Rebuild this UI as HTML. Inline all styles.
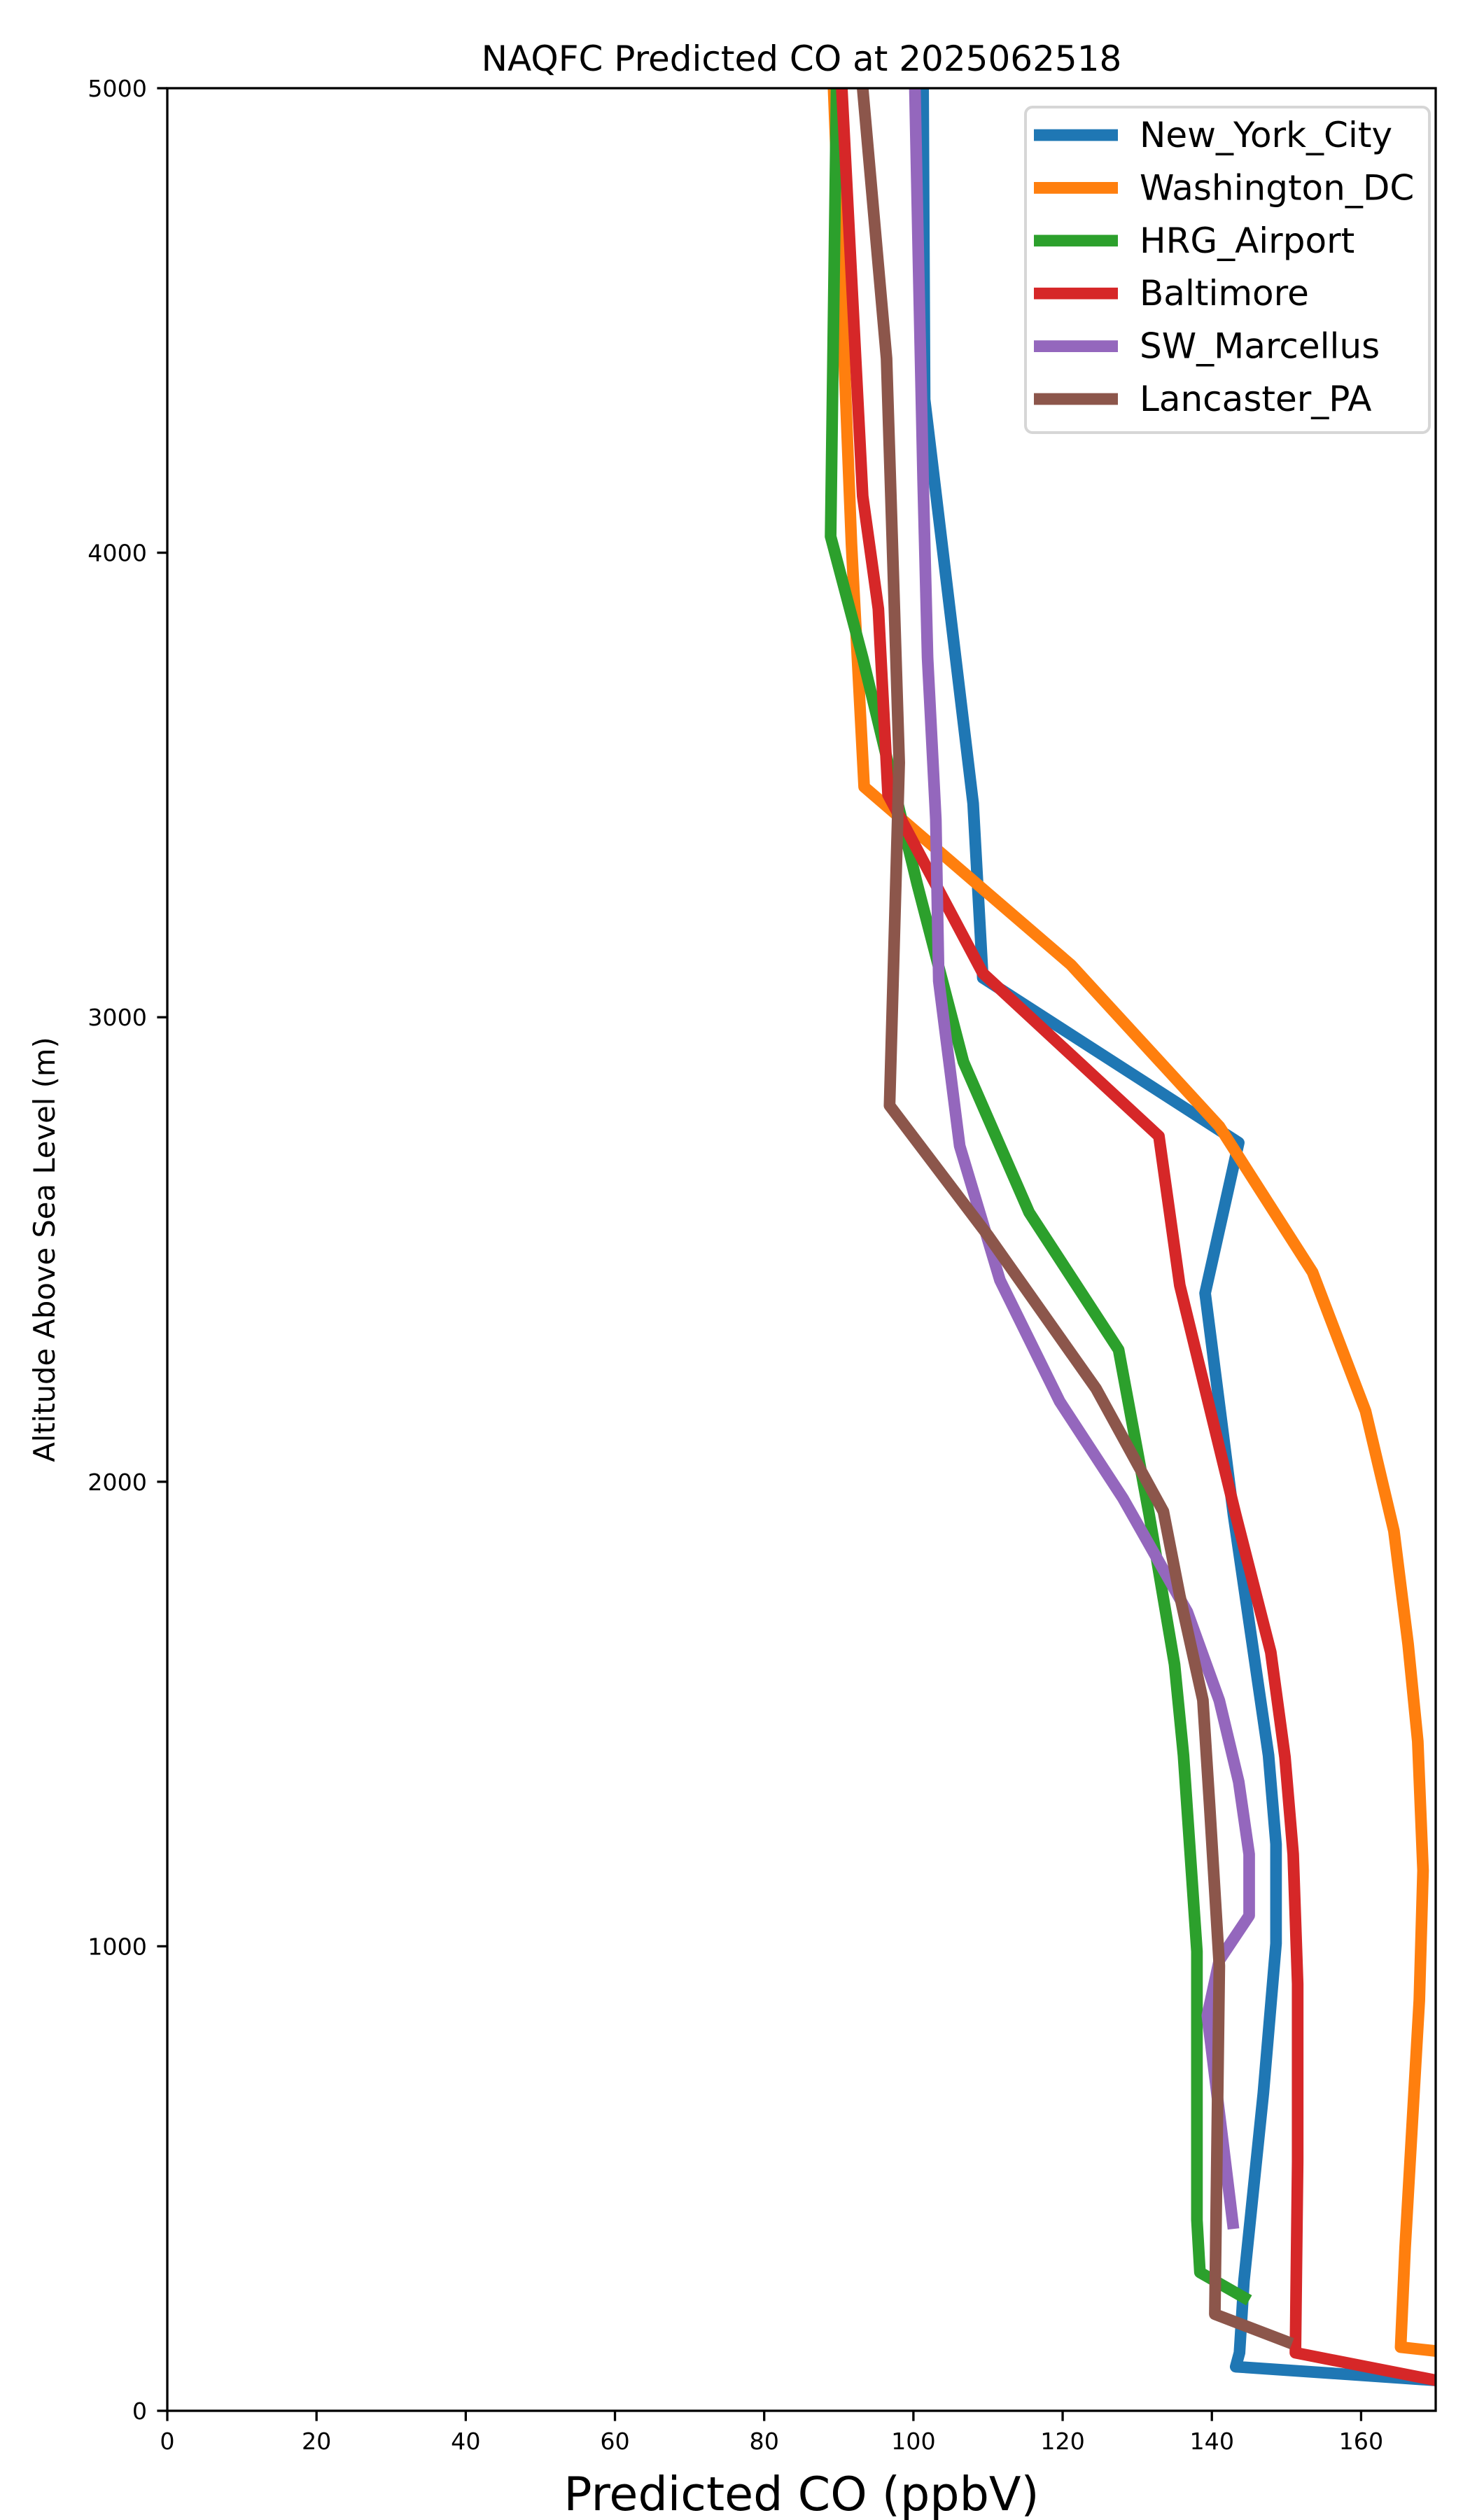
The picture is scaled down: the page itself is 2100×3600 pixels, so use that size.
<!DOCTYPE html>
<html><head><meta charset="utf-8"><style>
html,body{margin:0;padding:0;background:#fff;}
svg{display:block;font-family:"DejaVu Sans","Liberation Sans",sans-serif;}
</style></head><body>
<svg id="chart" width="2100" height="3600" viewBox="0 0 2100 3600" xmlns="http://www.w3.org/2000/svg">
<rect width="2100" height="3600" fill="#fff"/>
<defs><clipPath id="plotclip"><rect x="239" y="126" width="1812" height="3318"/></clipPath></defs>
<text x="1145" y="101" font-size="50" text-anchor="middle">NAQFC Predicted CO at 2025062518</text>
<g id="series" clip-path="url(#plotclip)"></g>
<g id="axes"></g>
<text x="1145" y="3586" font-size="66.7" text-anchor="middle">Predicted CO (ppbV)</text>
<text x="0" y="0" font-size="41.7" text-anchor="middle" transform="translate(78,1785) rotate(-90)">Altitude Above Sea Level (m)</text>
<g id="legend"></g>
</svg>
<script>
const seriesNames = ["New_York_City","Washington_DC","HRG_Airport","Baltimore","SW_Marcellus","Lancaster_PA"];
const seriesColors = ["#1f77b4","#ff7f0e","#2ca02c","#d62728","#9467bd","#8c564b"];
const xTicks = [0,20,40,60,80,100,120,140,160];
const yTicks = [0,1000,2000,3000,4000,5000];
const nycCO  = [101.3,101.5,108,109.3,143.6,139.1,142.9,147.6,148.6,148.6,146.9,144.3,143.7,143.2,175];
const nycAlt = [5000,4330,3460,3085,2730,2406,1929,1411,1220,1006,684,280,125,95,60];
const dcCO   = [89.3,91.7,93.4,121.1,141,153.5,160.6,164.4,166.3,167.6,168.3,167.8,165.9,165.3,175];
const dcAlt  = [5000,4018,3496,3113,2765,2451,2152,1894,1650,1441,1163,884,351,137,120];
const hrgCO  = [89.7,88.9,93.2,100.5,106.7,115.5,127.5,131.6,135,136.2,138,138,138.4,144.3];
const hrgAlt = [5000,4035,3774,3287,2904,2580,2284,1929,1607,1411,989,411,298,244];
const balCO  = [90.4,93.2,95.3,96.6,109.3,132.9,135.7,143.2,147.9,149.8,150.9,151.5,151.5,151.2,175];
const balAlt = [5000,4122,3879,3479,3095,2744,2423,1929,1633,1407,1198,919,536,125,50];
const swmCO  = [100.2,100.7,101.3,101.9,103,103.4,106.2,111.6,119.6,128.1,136.7,141,143.6,145,145,141,139.4,142.4,142.8];
const swmAlt = [5000,4610,4157,3774,3426,3078,2723,2434,2173,1964,1720,1529,1354,1198,1066,970,851,458,404];
const lanCO  = [93.2,96.4,98.1,96.8,110,124.5,133.5,135.7,138.8,139.7,141,140.4,150];
const lanAlt = [5000,4418,3548,2810,2530,2200,1936,1755,1530,1304,958,208,149];

const seriesCO = [nycCO,dcCO,hrgCO,balCO,swmCO,lanCO];
const seriesAlt = [nycAlt,dcAlt,hrgAlt,balAlt,swmAlt,lanAlt];
const L=239,R=2051,T=126,B=3444,XMAX=170,YMAX=5000;
const xs = v => L + v/XMAX*(R-L);
const ys = v => B - v/YMAX*(B-T);
const NS="http://www.w3.org/2000/svg";
function mk(tag, attrs, parent){const e=document.createElementNS(NS,tag);for(const k in attrs)e.setAttribute(k,attrs[k]);parent.appendChild(e);return e;}
const gS=document.getElementById('series');
seriesNames.forEach((n,i)=>{
  const pts=seriesCO[i].map((c,j)=>xs(c).toFixed(1)+','+ys(seriesAlt[i][j]).toFixed(1)).join(' ');
  const pl=mk('polyline',{points:pts,fill:'none',stroke:seriesColors[i],'stroke-width':16.7,'stroke-linejoin':'round','stroke-linecap':'square'},gS);
  
  
});
const gA=document.getElementById('axes');
const frame=mk('rect',{x:L,y:T,width:R-L,height:B-T,fill:'none',stroke:'#000','stroke-width':3.3},gA);


xTicks.forEach(t=>{
  const x=xs(t);
  const tk=mk('line',{x1:x,x2:x,y1:B,y2:B+14.6,stroke:'#000','stroke-width':3.3},gA);
  
  
  const lb=mk('text',{x:x,y:B+55,'font-size':33.3,'text-anchor':'middle'},gA);
  lb.textContent=t;
  
  
});
yTicks.forEach(t=>{
  const y=ys(t);
  const tk=mk('line',{x1:L-14.6,x2:L,y1:y,y2:y,stroke:'#000','stroke-width':3.3},gA);
  
  
  const lb=mk('text',{x:L-29,y:y+12,'font-size':33.3,'text-anchor':'end'},gA);
  lb.textContent=t;
  
  
});
const gL=document.getElementById('legend');
const box=mk('rect',{x:1465,y:153,width:577,height:465,rx:10,fill:'#fff','fill-opacity':0.8,stroke:'#d6d6d6','stroke-width':4},gL);


seriesNames.forEach((n,i)=>{
  const y=193+i*75.4;
  const ln=mk('line',{x1:1477,x2:1597,y1:y,y2:y,stroke:seriesColors[i],'stroke-width':16.7},gL);
  
  
  const tx=mk('text',{x:1628,y:y+17,'font-size':50},gL);
  tx.textContent=n;
  
  
});
</script>
</body></html>
